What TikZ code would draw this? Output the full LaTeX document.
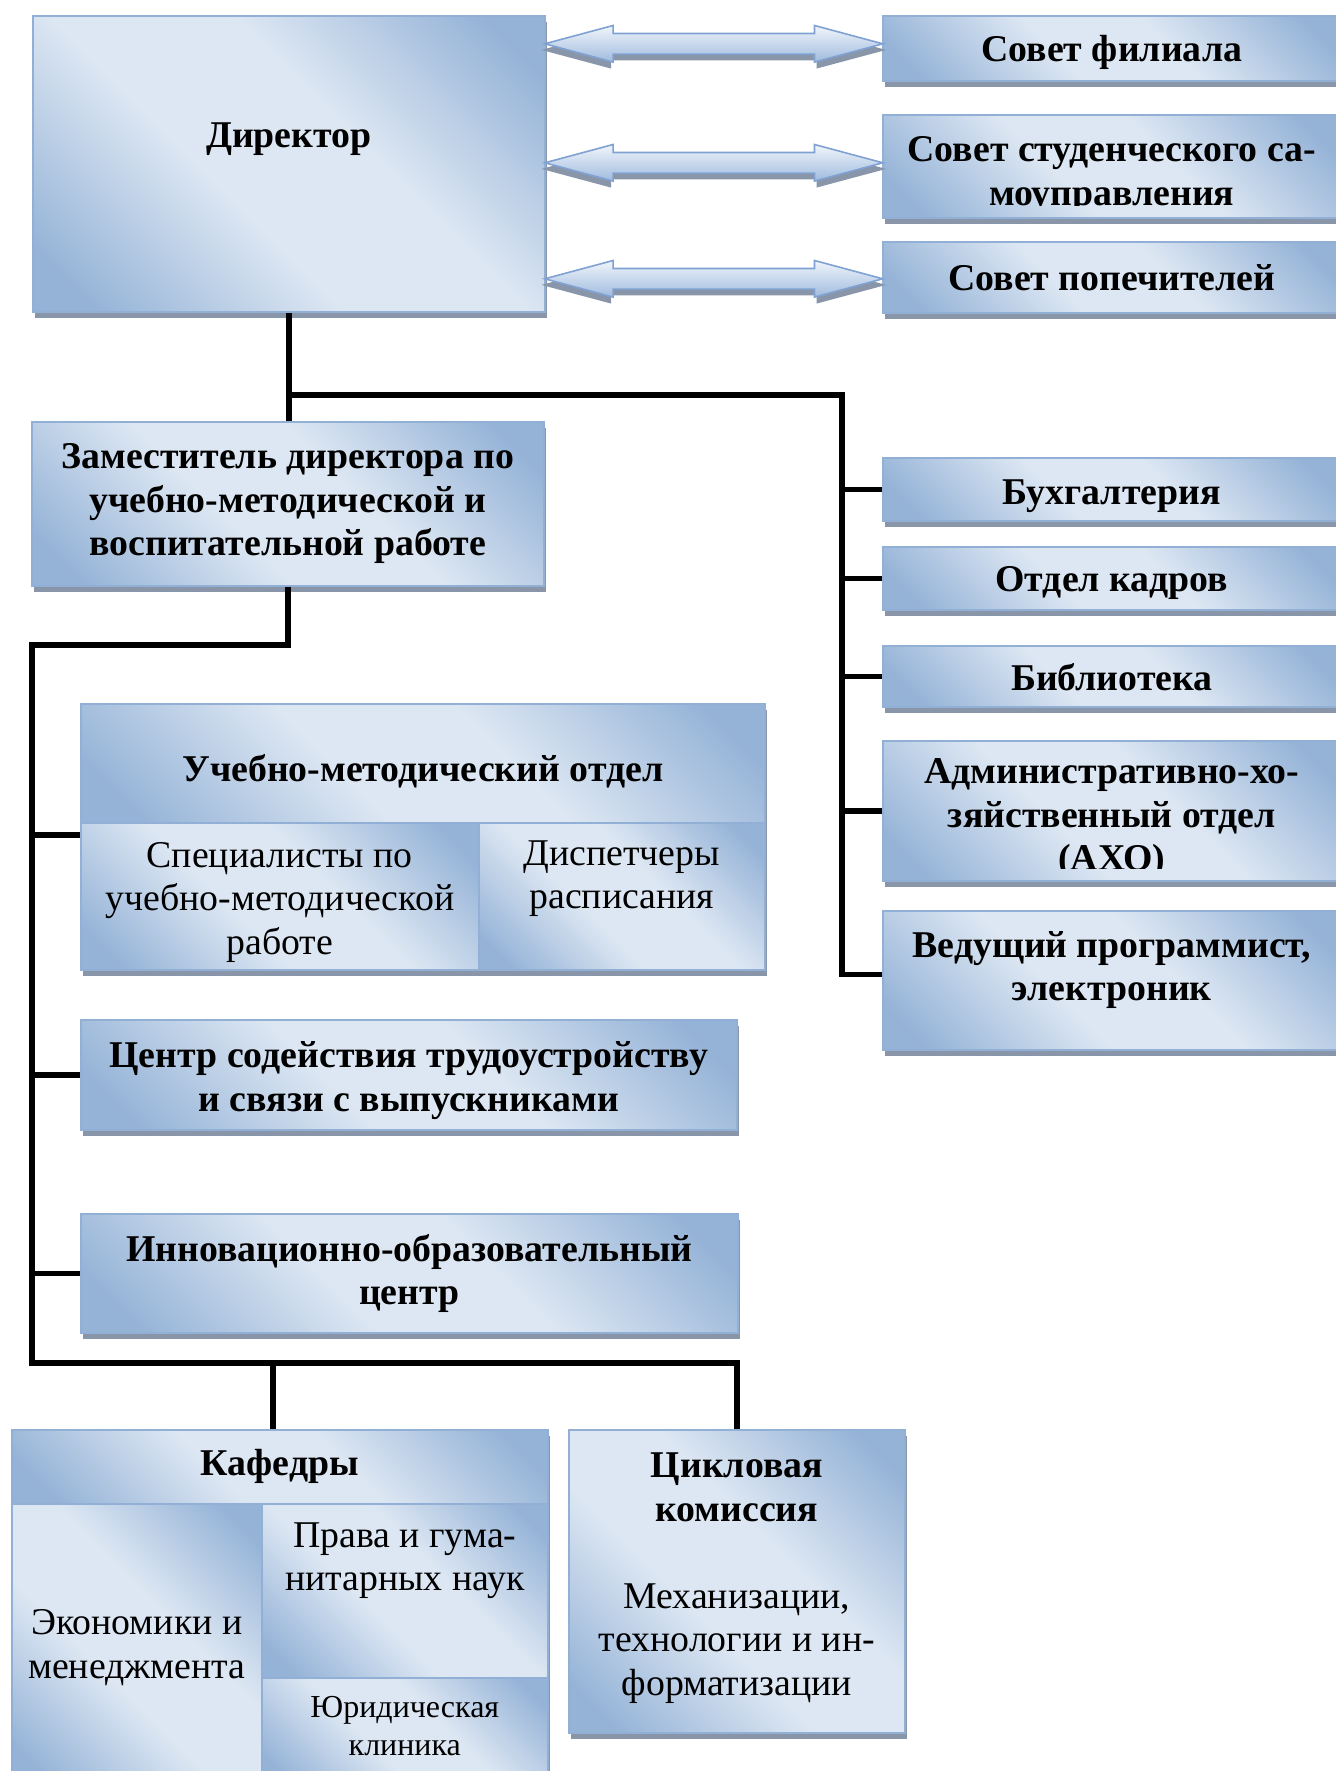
\documentclass[tikz,border=0pt]{standalone}
\usepackage{fontspec}
\setmainfont{Liberation Serif}
\usetikzlibrary{calc,shadows,shapes.arrows}

\definecolor{boxdark}{RGB}{149,179,215}
\definecolor{boxlight}{RGB}{221,231,243}
\definecolor{boxline}{RGB}{146,176,214}
\definecolor{shadowc}{RGB}{137,150,170}
\definecolor{arrline}{RGB}{128,162,210}
\definecolor{arrlight}{RGB}{240,245,251}
\definecolor{arrdark}{RGB}{160,187,222}

\pgfdeclarehorizontalshading{boxshade}{100bp}{color(0bp)=(boxdark); color(20bp)=(boxdark); color(42bp)=(boxlight); color(58bp)=(boxlight); color(80bp)=(boxdark); color(100bp)=(boxdark)}

\newcommand\bigtext{\fontsize{18.9pt}{21.75pt}\selectfont}
\newcommand\smalltext{\fontsize{16pt}{19pt}\selectfont}

\tikzset{
  unitbox/.style={draw=boxline, line width=0.8pt, shading=boxshade, shading angle=45,
    drop shadow={shadow xshift=1pt, shadow yshift=-3pt, fill=shadowc, opacity=1},
    anchor=north west, inner sep=0pt, align=center, font=\bigtext\bfseries},
  subunit/.style={unitbox, font=\bigtext},
  link/.style={line width=2.7pt},
  twoway/.style={double arrow, draw=arrline, line width=0.8pt, top color=arrlight, bottom color=arrdark,
    text height=9.5pt, text depth=0pt, minimum width=17.5pt, double arrow head extend=4pt,
    double arrow tip angle=30, minimum height=169pt, inner sep=0pt,
    drop shadow={shadow xshift=0pt, shadow yshift=-3pt, shadow scale=1.02, fill=shadowc, opacity=1}}
}

\begin{document}
\begin{tikzpicture}[x=0.5pt, y=-0.5pt]
\useasboundingbox (0,0) rectangle (1335,1771);

\node[unitbox, minimum width=256pt, minimum height=148pt, text depth=29pt] (dir) at (32,15) {Директор};

\node[unitbox, minimum width=229pt, minimum height=32.5pt, text height=17.5pt] (sf) at (882,15) {Совет филиала};
\node[unitbox, minimum width=229pt, minimum height=51.5pt] (ssu) at (882,114) {};
\begin{scope}
  \clip (ssu.north west) rectangle ([yshift=6.5pt]ssu.south east);
  \node[font=\bigtext\bfseries, align=center, inner sep=0pt] (ssut) at ([yshift=-4.5pt]ssu.center) {Совет студенческого са-\\моуправления};
\end{scope}
\node[unitbox, minimum width=229pt, minimum height=35.5pt] (sp) at (882,241) {Совет попечителей};

\node[twoway] (a1) at ($(dir.east |- sf.west)!0.5!(sf.west) + (0,-4.5)$) {};
\node[twoway] (a2) at ($(dir.east |- ssu.west)!0.5!(ssu.west) + (0,-3.5)$) {};
\node[twoway] (a3) at ($(dir.east |- sp.west)!0.5!(sp.west) + (0,1.5)$) {};

\node[unitbox, minimum width=256pt, minimum height=82pt] (zam) at (31,421) {Заместитель директора по\\учебно-методической и\\воспитательной работе};

\node[unitbox, minimum width=229pt, minimum height=31.5pt, text height=19.3pt] (bh) at (882,457) {Бухгалтерия};
\node[unitbox, minimum width=229pt, minimum height=31.5pt, text height=17.3pt] (ok) at (882,546) {Отдел кадров};
\node[unitbox, minimum width=229pt, minimum height=30.5pt, text height=14.7pt] (lib) at (882,645) {Библиотека};
\node[unitbox, minimum width=229pt, minimum height=70pt] (axo) at (882,740) {};
\begin{scope}
  \clip (axo.north west) rectangle ([yshift=6.5pt]axo.south east);
  \node[font=\bigtext\bfseries, align=center, inner sep=0pt] (axot) at ([yshift=-4pt]axo.center) {Административно-хо-\\зяйственный отдел\\(АХО)};
\end{scope}
\node[unitbox, minimum width=229pt, minimum height=69.5pt, text depth=14.1pt] (ved) at (882,910) {Ведущий программист,\\электроник};

\node[unitbox, minimum width=342pt, minimum height=59.5pt, text height=21pt] (umo) at (80,703) {Учебно-методический отдел};
\node[subunit, minimum width=199pt, minimum height=73.5pt, text height=62pt] (spec) at (80,822) {Специалисты по\\учебно-методической\\работе};
\node[subunit, minimum width=143pt, minimum height=73.5pt, text depth=21.6pt] (disp) at (478,822) {Диспетчеры\\расписания};

\node[unitbox, minimum width=328pt, minimum height=55pt, text height=40.5pt] (csz) at (80,1019) {Центр содействия трудоустройству\\и связи с выпускниками};
\node[unitbox, minimum width=328.5pt, minimum height=59.5pt] (ioc) at (80,1213) {Инновационно-образовательный\\центр};

\node[unitbox, minimum width=268pt, minimum height=37pt] (kaf) at (11,1429) {Кафедры};
\node[subunit, minimum width=125pt, minimum height=141pt, text depth=0.7pt] (econ) at (11,1503) {Экономики и\\менеджмента};
\node[subunit, minimum width=143pt, minimum height=87pt, text depth=34pt] (prav) at (261,1503) {Права и гума-\\нитарных наук};
\node[subunit, minimum width=143pt, minimum height=54pt, font=\smalltext, text depth=5.9pt] (yur) at (261,1677) {Юридическая\\клиника};
\node[subunit, minimum width=168pt, minimum height=151.5pt, text depth=7.4pt] (cyc) at (568,1429) {\textbf{Цикловая}\\\textbf{комиссия}\\[21.75pt]Механизации,\\технологии и ин-\\форматизации};

\coordinate (j1) at (288,395);
\coordinate (rb) at (842,395);
\draw[link] (dir.south) -- (dir.south |- zam.north);
\draw[link] (j1) -- (rb) |- ([yshift=3pt]ved.west);
\foreach \n in {bh,ok,lib,axo} \draw[link] (rb |- \n.west) -- (\n.west);

\coordinate (lb) at (32,645);
\coordinate (lbend) at (32,1363);
\coordinate (umot) at ([yshift=-6.5pt]spec.north west);
\draw[link] (zam.south) |- (lb) -- (lbend) -| (cyc.north);
\draw[link] ([xshift=-3.5pt]kaf.north |- lbend) -- ([xshift=-3.5pt]kaf.north);
\draw[link] (lb |- umot) -- (umot);
\foreach \n in {csz,ioc} \draw[link] (lb |- \n.west) -- (\n.west);
\end{tikzpicture}
\end{document}
